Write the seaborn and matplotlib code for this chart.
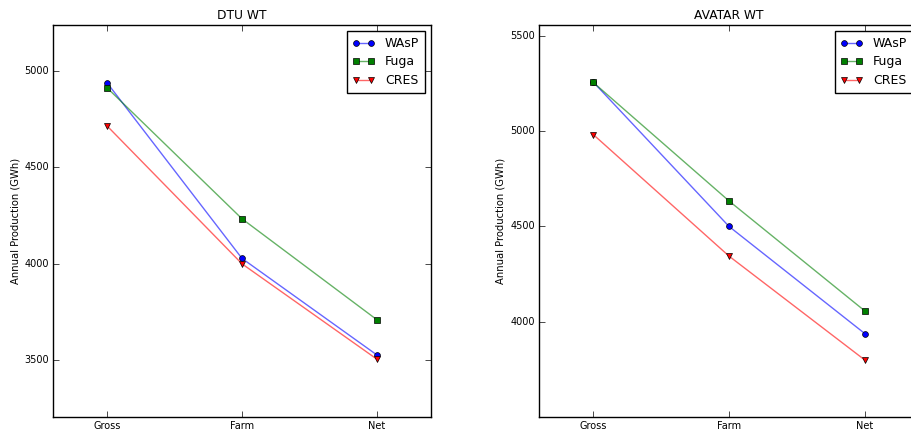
import matplotlib
matplotlib.use("Agg")
import matplotlib.pyplot as plt
import seaborn as sns
import pandas as pd

plt.style.use("classic")
plt.rcParams["font.family"] = ["DejaVu Sans"]

stages = ["Gross", "Farm", "Net"]
series = ["WAsP", "Fuga", "CRES"]

dtu_wasp = [4940, 4027, 3525]
dtu_fuga = [4914, 4233, 3708]
dtu_cres = [4716, 3999, 3503]

avatar_wasp = [5259, 4500, 3937]
avatar_fuga = [5257, 4634, 4056]
avatar_cres = [4983, 4344, 3798]

titles = ["DTU WT", "AVATAR WT"]
ylabel = "Annual Production (GWh)"
yticks_left = [3500, 4000, 4500, 5000]
yticks_right = [4000, 4500, 5000, 5500]

styles = {
    "WAsP": dict(marker="o", line=(0, 0, 1, 0.6), face="b"),
    "Fuga": dict(marker="s", line=(0, 0.5, 0, 0.6), face="g"),
    "CRES": dict(marker="v", line=(1, 0, 0, 0.6), face="r"),
}

fig = plt.figure(figsize=(9.11, 4.32), dpi=100, facecolor="white")
ax1 = fig.add_axes([53 / 911, 1 - 417 / 432, (431 - 53) / 911, (417 - 25) / 432])
ax2 = fig.add_axes([539 / 911, 1 - 417 / 432, (919 - 539) / 911, (417 - 25) / 432])

panels = [
    (ax1, titles[0], [dtu_wasp, dtu_fuga, dtu_cres], yticks_left),
    (ax2, titles[1], [avatar_wasp, avatar_fuga, avatar_cres], yticks_right),
]

for ax, title, vals, yt in panels:
    allv = []
    for name, v in zip(series, vals):
        st = styles[name]
        sns.lineplot(x=stages, y=v, ax=ax, label=name, sort=False,
                     color=st["line"], marker=st["marker"], markersize=4.2,
                     markerfacecolor=st["face"], markeredgecolor="k",
                     markeredgewidth=0.5, linewidth=1)
        allv += v
    ax.set_xlim(-0.4, 2.4)
    ax.set_ylim(min(allv) - 300, max(allv) + 300)
    ax.set_yticks(yt)
    ax.set_xticks(range(len(stages)))
    ax.set_xticklabels(stages)
    ax.tick_params(labelsize=7, direction="in", top=True, right=True, length=4, pad=3)
    ax.set_title(title, fontsize=8.8, pad=4)
    ax.set_ylabel(ylabel, fontsize=7.2, labelpad=3)
    ax.set_xlabel("")
    ax.grid(False)
    leg = ax.legend(loc="upper right", numpoints=2, fontsize=9, fancybox=False,
                    borderaxespad=0.5, handlelength=1.8, handletextpad=0.8,
                    labelspacing=0.45, borderpad=0.45)
    leg.get_frame().set_edgecolor("black")

fig.savefig("out.png", dpi=100, facecolor="white")
